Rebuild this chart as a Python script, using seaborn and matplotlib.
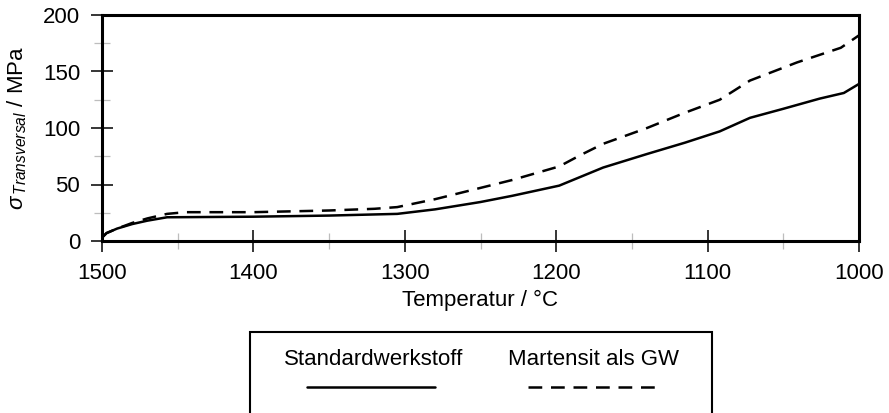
import pandas as pd
import matplotlib
matplotlib.use('Agg')
import matplotlib.pyplot as plt
from matplotlib.lines import Line2D
from matplotlib.patches import Rectangle
from matplotlib.ticker import MultipleLocator
import seaborn as sns

# values
temp_std = [1500, 1497, 1490, 1480, 1470, 1457, 1400, 1350, 1305, 1280, 1250, 1229,
            1198, 1169, 1140, 1115, 1092, 1072, 1050, 1026, 1010, 1000]
sigma_std = [3, 7, 11, 15, 18, 21, 21.5, 22.5, 24, 28, 34.5, 40,
             49, 65, 77, 87, 97, 109, 117, 126, 131, 139]

temp_mart = [1500, 1497, 1490, 1480, 1470, 1457, 1445, 1400, 1350, 1320, 1305, 1280, 1250,
             1229, 1198, 1184, 1169, 1140, 1116, 1092, 1072, 1041, 1012, 1000]
sigma_mart = [3, 7, 11, 16, 20, 24, 25.5, 25.5, 27, 28.5, 30, 37, 47,
              54, 66, 76, 86, 100, 113, 125, 142, 158, 171, 182]

labels = ['Standardwerkstoff', 'Martensit als GW']

std = pd.DataFrame({'T': temp_std, 'sigma': sigma_std})
mart = pd.DataFrame({'T': temp_mart, 'sigma': sigma_mart})

sns.set_style('white')
plt.rcParams['font.family'] = ['Liberation Sans', 'DejaVu Sans']
plt.rcParams['text.color'] = 'black'
plt.rcParams['axes.labelcolor'] = 'black'
plt.rcParams['xtick.color'] = 'black'
plt.rcParams['ytick.color'] = 'black'
plt.rcParams['mathtext.fontset'] = 'custom'
plt.rcParams['mathtext.rm'] = 'Liberation Sans'
plt.rcParams['mathtext.it'] = 'Liberation Sans:italic'

fig = plt.figure(figsize=(8.89, 4.13), dpi=100)
ax = fig.add_axes([102/889, 1 - 241/413, 757/889, 226/413])

lw = 1.8
dash = (5.5, 3.5)
sns.lineplot(data=std, x='T', y='sigma', ax=ax, color='black', lw=lw, sort=False)
sns.lineplot(data=mart, x='T', y='sigma', ax=ax, color='black', lw=lw, sort=False,
             dashes=False, linestyle=(0, dash))

ax.set_xlim(1500, 1000)
ax.set_ylim(0, 200)
ax.xaxis.set_major_locator(MultipleLocator(100))
ax.xaxis.set_minor_locator(MultipleLocator(50))
ax.yaxis.set_major_locator(MultipleLocator(50))
ax.yaxis.set_minor_locator(MultipleLocator(25))
ax.tick_params(which='both', bottom=True, left=True, top=False, right=False)
ax.tick_params(which='major', direction='inout', length=15.5, width=1.1,
               color='black', labelcolor='black', labelsize=16, pad=8)
ax.tick_params(which='minor', direction='inout', length=12, width=0.9,
               color='#bdbdbd')
for s in ax.spines.values():
    s.set_linewidth(2.2)
    s.set_color('black')

ax.set_xlabel('Temperatur / °C', fontsize=16, labelpad=4, color='black')
ax.set_ylabel(r'$\sigma_{\,\mathit{Transversal}}$ / MPa', fontsize=16, color='black')
ax.yaxis.set_label_coords(-0.096, 0.5)

# legend drawn as in the original: labels above their line samples
fig.add_artist(Rectangle((250/889, -0.05), 462/889, 0.05 + 81/413, transform=fig.transFigure,
                         fill=False, lw=1.5, ec='black', clip_on=False))
fig.text(373.5/889, 1 - 365/413, labels[0], ha='center', va='baseline', fontsize=16)
fig.text(593/889, 1 - 365/413, labels[1], ha='center', va='baseline', fontsize=16)
fig.add_artist(Line2D([307/889, 435/889], [1 - 387/413] * 2, transform=fig.transFigure,
                      color='black', lw=lw))
fig.add_artist(Line2D([528/889, 655/889], [1 - 387/413] * 2, transform=fig.transFigure,
                      color='black', lw=lw, linestyle=(0, dash)))

fig.savefig('out.png', dpi=100)
